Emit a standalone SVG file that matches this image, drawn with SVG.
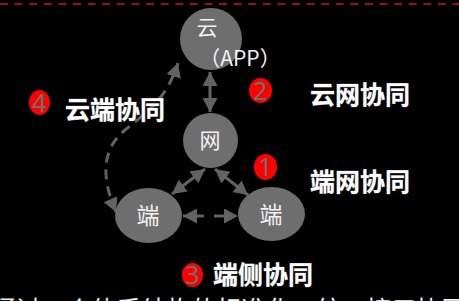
<svg xmlns="http://www.w3.org/2000/svg" width="459" height="301" viewBox="0 0 459 301">
<style>
.node{fill:#6e6e6e}
.ntext{font-family:"Noto Sans CJK SC","Noto Sans",sans-serif;fill:#f2f2f2;text-anchor:middle}
.label{font-family:"Noto Sans CJK SC","Noto Sans",sans-serif;font-weight:bold;font-size:25px;fill:#ffffff;stroke:#8a8a8a;stroke-width:0.6;paint-order:stroke}
.badge{fill:#ff0000}
.num{font-family:"Noto Sans","DejaVu Sans",sans-serif;font-size:25px;fill:#6e6e6e;text-anchor:middle}
.conn{stroke:#626262;stroke-width:3;fill:none}
.dash{stroke-dasharray:10 7}
</style>
<defs>
<marker id="ah" viewBox="0 0 14 15" refX="14" refY="7.5" markerWidth="14" markerHeight="15" markerUnits="userSpaceOnUse" orient="auto-start-reverse">
<path d="M0,0 L14,7.5 L0,15 z" fill="#626262"/>
</marker>
</defs>
<rect width="459" height="301" fill="#000000"/>
<line x1="0" y1="4" x2="459" y2="4" stroke="#9b0a28" stroke-width="2" stroke-dasharray="8 6.6"/>
<g id="connectors">
<line class="conn" x1="210" y1="72" x2="210" y2="112" marker-start="url(#ah)" marker-end="url(#ah)"/>
<line class="conn" x1="205" y1="169" x2="172" y2="194" marker-start="url(#ah)" marker-end="url(#ah)"/>
<line class="conn" x1="215" y1="169" x2="248" y2="195" marker-start="url(#ah)" marker-end="url(#ah)"/>
<line class="conn" x1="183" y1="216" x2="238" y2="216" stroke-dasharray="21 10" marker-start="url(#ah)" marker-end="url(#ah)"/>
<path class="conn dash" d="M116,212 C100,175 103,148 125,130 S166,100 178,63" marker-start="url(#ah)" marker-end="url(#ah)"/>
</g>
<g id="cloud">
<circle class="node" cx="211" cy="39" r="31"/>
<text class="ntext" x="207" y="35" font-size="21">云</text>
<text class="ntext" x="240" y="66" font-size="21">（APP）</text>
</g>
<g id="net">
<circle class="node" cx="210.5" cy="140.5" r="27.5"/>
<text class="ntext" x="210" y="148" font-size="21">网</text>
</g>
<g id="end-left">
<ellipse class="node" cx="148.5" cy="215.5" rx="33.5" ry="27.5"/>
<text class="ntext" x="148" y="224" font-size="23">端</text>
</g>
<g id="end-right">
<ellipse class="node" cx="271.5" cy="214" rx="33.5" ry="27"/>
<text class="ntext" x="271" y="223" font-size="23">端</text>
</g>
<g id="badge4">
<ellipse class="badge" cx="39.5" cy="102.5" rx="10.5" ry="12.5"/>
<text class="num" x="39.5" y="111.5">4</text>
</g>
<g id="badge2">
<ellipse class="badge" cx="260.5" cy="90.5" rx="11.5" ry="12.5"/>
<text class="num" x="260.5" y="99.5">2</text>
</g>
<g id="badge1">
<ellipse class="badge" cx="265.5" cy="167" rx="11.5" ry="13"/>
<text class="num" x="265.5" y="176">1</text>
</g>
<g id="badge3">
<ellipse class="badge" cx="192.5" cy="275" rx="10.5" ry="12"/>
<text class="num" x="192.5" y="284">3</text>
</g>
<g id="labels">
<text class="label" x="65" y="119">云端协同</text>
<text class="label" x="310" y="104">云网协同</text>
<text class="label" x="310" y="191">端网协同</text>
<text class="label" x="213" y="284">端侧协同</text>
<text class="ntext" x="229" y="319" font-size="25" style="text-anchor:middle">通过一个体系结构的标准化，统一接口协同</text>
</g>
</svg>
